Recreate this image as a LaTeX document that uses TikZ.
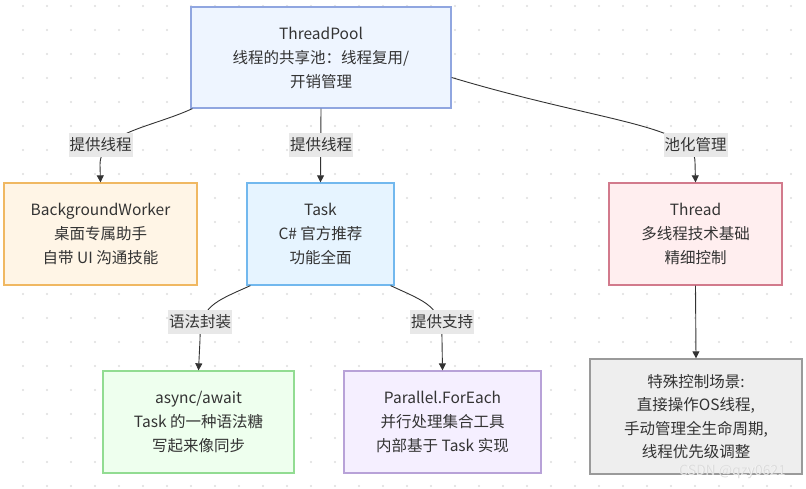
\documentclass[tikz,border=0pt]{standalone}
\usepackage{fontspec}
\setmainfont{Noto Sans CJK SC}
\usetikzlibrary{arrows.meta}
\definecolor{txt}{HTML}{333333}
\definecolor{dotc}{HTML}{DEDEDE}
\definecolor{lblbg}{HTML}{E8E8E8}
\definecolor{tpF}{HTML}{EEF5FF}\definecolor{tpD}{HTML}{90A6E0}
\definecolor{bwF}{HTML}{FFF5E6}\definecolor{bwD}{HTML}{F0B862}
\definecolor{tkF}{HTML}{E6F4FF}\definecolor{tkD}{HTML}{72B8EE}
\definecolor{thF}{HTML}{FFEEEF}\definecolor{thD}{HTML}{D27A8C}
\definecolor{asF}{HTML}{EEFFEE}\definecolor{asD}{HTML}{92DC92}
\definecolor{paF}{HTML}{F5EFFF}\definecolor{paD}{HTML}{B8A2D8}
\definecolor{spF}{HTML}{EEEEEE}\definecolor{spD}{HTML}{9A9A9A}
\begin{document}
\begin{tikzpicture}[x=1pt,y=-1pt,
  font=\fontsize{15.5}{24}\selectfont,
  box/.style={draw, line width=1.3pt, align=center, text=txt, inner sep=0pt},
  lbl/.style={fill=lblbg, text=txt, inner sep=1pt, minimum height=24pt, font=\fontsize{15.5}{20}\selectfont},
  edge/.style={draw=txt, line width=0.9pt, -{Triangle[length=7pt,width=7pt]}}
]
\useasboundingbox (0,0) rectangle (806,489);
\fill[white] (0,0) rectangle (806,489);
\foreach \i in {0,...,33} \foreach \j in {0,...,20}
  \fill[dotc] (23+24*\i, 6+24*\j) circle (1.1pt);

\node[box, fill=tpF, draw=tpD, minimum width=260pt, minimum height=101pt] (tp) at (321,57.5)
  {ThreadPool\\线程的共享池：线程复用/\\开销管理};
\node[box, fill=bwF, draw=bwD, minimum width=193pt, minimum height=102pt] (bw) at (100.5,234)
  {BackgroundWorker\\桌面专属助手\\自带 UI 沟通技能};
\node[box, fill=tkF, draw=tkD, minimum width=147pt, minimum height=102pt] (task) at (320.5,234)
  {Task\\C\# 官方推荐\\功能全面};
\node[box, fill=thF, draw=thD, minimum width=173pt, minimum height=102pt] (thread) at (695.5,234)
  {Thread\\多线程技术基础\\精细控制};
\node[box, fill=asF, draw=asD, minimum width=191pt, minimum height=102pt] (async) at (198.5,422)
  {async/await\\Task 的一种语法糖\\写起来像同步};
\node[box, fill=paF, draw=paD, minimum width=197pt, minimum height=102pt] (par) at (442.5,422)
  {Parallel.ForEach\\并行处理集合工具\\内部基于 Task 实现};
\node[box, fill=spF, draw=spD, minimum width=212pt, minimum height=115pt, font=\fontsize{15.5}{23.5}\selectfont] (spec) at (696,416.5)
  {特殊控制场景:\\直接操作OS线程,\\手动管理全生命周期,\\线程优先级调整};

% edges
\draw[edge] ([xshift=2pt]tp.south west) .. controls (150,128) and (100,132) .. (100,165) -- (bw.north);
\draw[edge] (tp.south) -- (task.north);
\draw[edge] ([yshift=-20pt]tp.east) .. controls (600,122) and (695,125) .. (695,162) -- (thread.north);
\draw[edge] ([xshift=4pt]task.south west) .. controls (214,302) and (200,306) .. (200,340) -- (async.north);
\draw[edge] ([xshift=-4pt]task.south east) .. controls (426,302) and (442,306) .. (442,340) -- (par.north);
\draw[edge] (thread.south) -- (spec.north);

% labels
\node[lbl] (l1) at (100.5,145) {提供线程};
\node[lbl] (l2) at (321,145) {提供线程};
\node[lbl] (l3) at (695.5,145) {池化管理};
\node[lbl] (l4) at (200,322) {语法封装};
\node[lbl] (l5) at (442,322) {提供支持};

\node[text=white, font=\fontsize{14}{16}\selectfont, anchor=east] (wm) at (789,472) {CSDN @qzy0621};
\node[text=black!22, font=\fontsize{14}{16}\selectfont, anchor=east, opacity=0.6] at (789.4,472.4) {CSDN @qzy0621};
\end{tikzpicture}
\end{document}
